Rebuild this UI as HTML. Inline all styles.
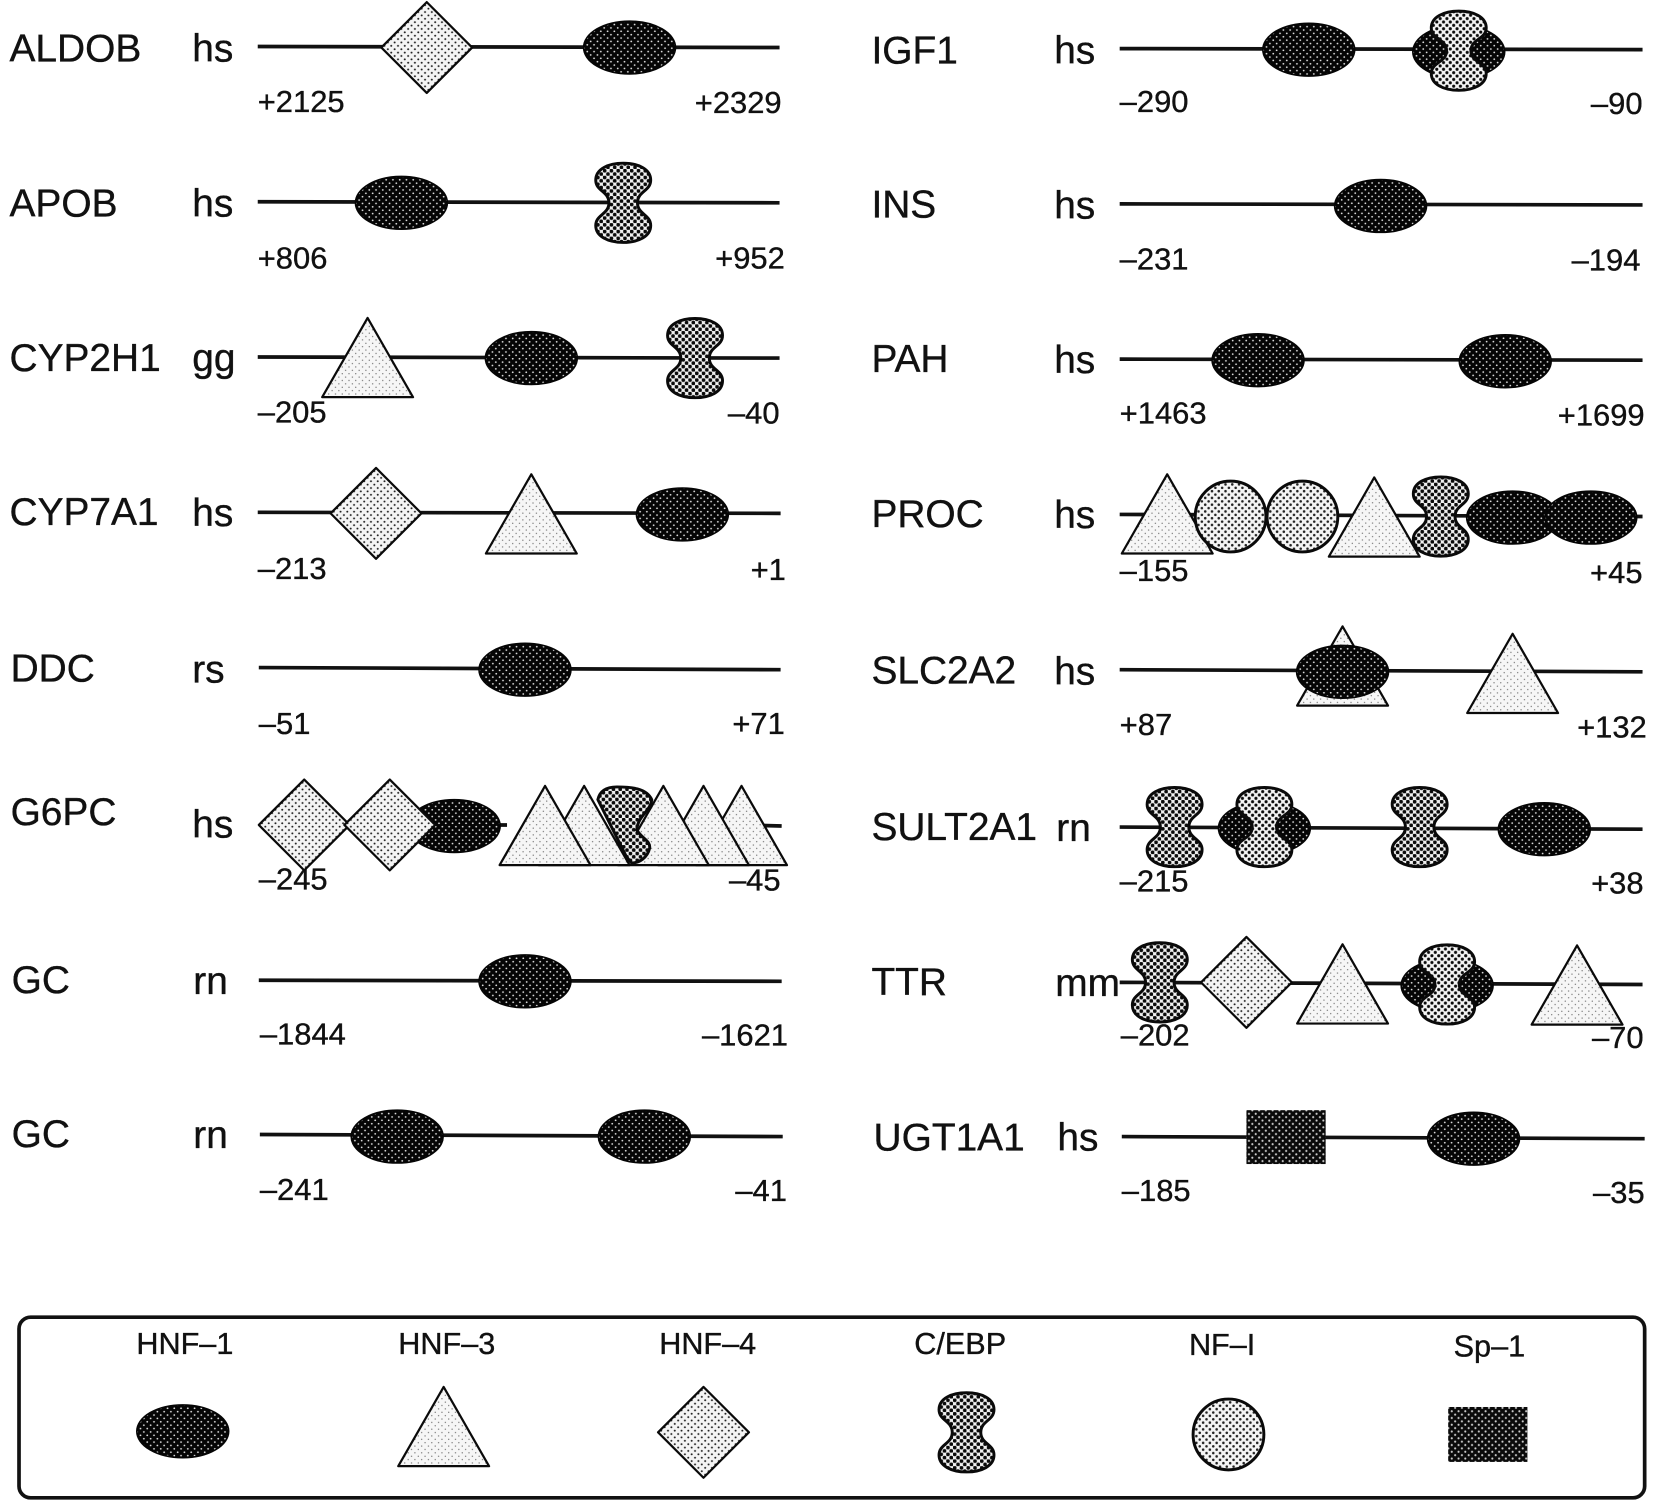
<!DOCTYPE html>
<html><head><meta charset="utf-8"><style>html,body{margin:0;padding:0;background:#fff}svg{display:block}
text{font-family:"Liberation Sans",Arial,sans-serif;fill:#111;stroke:#111;stroke-width:.35}
.l{font-size:36.8px}.n{font-size:29.3px}.g{font-size:29px;text-anchor:middle}.r{text-anchor:end}
.ln{stroke:#111;stroke-width:3.5;fill:none}
.s{stroke:#0a0a0a;stroke-width:2.8;stroke-linejoin:round}
.st{stroke:#0a0a0a;stroke-width:2.1;stroke-linejoin:round}
</style></head><body>
<svg xmlns="http://www.w3.org/2000/svg" width="1656" height="1501" viewBox="0 0 1656 1501">
<defs>
<pattern id="pE" patternUnits="userSpaceOnUse" width="6.4" height="6.4"><rect width="6.4" height="6.4" fill="#050505"/><circle cx="1.6" cy="1.6" r=".85" fill="#ddd"/><circle cx="4.8" cy="4.8" r=".85" fill="#ddd"/></pattern>
<pattern id="pT" patternUnits="userSpaceOnUse" width="6.4" height="6.4"><rect width="6.4" height="6.4" fill="#f6f6f6"/><circle cx="1.6" cy="1.6" r=".55" fill="#555"/><circle cx="4.8" cy="4.8" r=".55" fill="#555"/></pattern>
<pattern id="pD" patternUnits="userSpaceOnUse" width="6.4" height="6.4"><rect width="6.4" height="6.4" fill="#f4f4f4"/><circle cx="1.6" cy="1.6" r=".95" fill="#222"/><circle cx="4.8" cy="4.8" r=".95" fill="#222"/></pattern>
<pattern id="pC" patternUnits="userSpaceOnUse" width="6.4" height="6.4"><rect width="6.4" height="6.4" fill="#f0f0f0"/><circle cx="1.6" cy="1.6" r="1.8" fill="#0a0a0a"/><circle cx="4.8" cy="4.8" r="1.8" fill="#0a0a0a"/></pattern>
<pattern id="pC2" patternUnits="userSpaceOnUse" width="6.4" height="6.4"><rect width="6.4" height="6.4" fill="#f4f4f4"/><circle cx="1.6" cy="1.6" r="1.45" fill="#0a0a0a"/><circle cx="4.8" cy="4.8" r="1.45" fill="#0a0a0a"/></pattern>
<pattern id="pN" patternUnits="userSpaceOnUse" width="6.4" height="6.4"><rect width="6.4" height="6.4" fill="#f4f4f4"/><circle cx="1.6" cy="1.6" r="1.2" fill="#222"/><circle cx="4.8" cy="4.8" r="1.2" fill="#222"/></pattern>
<pattern id="pS" patternUnits="userSpaceOnUse" width="6.4" height="6.4"><rect width="6.4" height="6.4" fill="#0a0a0a"/><circle cx="1.6" cy="1.6" r="1" fill="#ccc"/><circle cx="4.8" cy="4.8" r="1" fill="#ccc"/></pattern>
<ellipse id="e" cx="0" cy="1" rx="43.5" ry="25" fill="url(#pE)" stroke="#050505" stroke-width="1.5"/>
<polygon id="d" points="0,-43 43,0 0,43 -43,0" fill="url(#pD)" class="st"/>
<polygon id="t" points="0,0 43,75 -43,75" fill="url(#pT)" class="st"/>
<path id="c" d="M0,-37.500C14,-37.500 26,-32 26,-21.500C26,-11 13.500,-11 13.500,0C13.500,11 26,11 26,21.500C26,32 14,37.500 0,37.500C-14,37.500 -26,32 -26,21.500C-26,11 -13.500,11 -13.500,0C-13.500,-11 -26,-11 -26,-21.500C-26,-32 -14,-37.500 0,-37.500Z" fill="url(#pC)" class="s"/>
<path id="c2" d="M0,-37.500C14,-37.500 26,-32 26,-21.500C26,-11 11.500,-11 11.500,0C11.500,11 26,11 26,21.500C26,32 14,37.500 0,37.500C-14,37.500 -26,32 -26,21.500C-26,11 -11.500,11 -11.500,0C-11.500,-11 -26,-11 -26,-21.500C-26,-32 -14,-37.500 0,-37.500Z" fill="url(#pC2)" class="s"/>
<circle id="o" cx="0" cy="0" r="33.500" fill="url(#pN)" class="s"/>
</defs>
<rect width="1656" height="1501" fill="#fff"/>
<g transform="scale(1.0563)">
<!-- lines -->
<path class="ln" d="M244,44L738,45M244,191L738,192M244,338L738,339M244,485L739,486M245,632L739,634M700,781L740,782M245,928L740,929M246,1074L741,1076M470,781L480,781
M1060,46L1555,47M1060,193L1555,194M1060,340L1555,341M1060,487L1555,489M1060,634L1555,636M1060,783L1555,785M1060,930L1555,932M1062,1076L1557,1078"/>
<!-- left labels -->
<text class="l" x="9" y="58">ALDOB</text><text class="l" x="182" y="58">hs</text>
<text class="l" x="9" y="205">APOB</text><text class="l" x="182" y="205">hs</text>
<text class="l" x="9" y="351">CYP2H1</text><text class="l" x="182" y="351">gg</text>
<text class="l" x="9" y="497">CYP7A1</text><text class="l" x="182" y="498">hs</text>
<text class="l" x="10" y="645">DDC</text><text class="l" x="182" y="646">rs</text>
<text class="l" x="10" y="781">G6PC</text><text class="l" x="182" y="793">hs</text>
<text class="l" x="11" y="940">GC</text><text class="l" x="183" y="941">rn</text>
<text class="l" x="11" y="1086">GC</text><text class="l" x="183" y="1087">rn</text>
<!-- right labels -->
<text class="l" x="825" y="60">IGF1</text><text class="l" x="998" y="60">hs</text>
<text class="l" x="825" y="206">INS</text><text class="l" x="998" y="207">hs</text>
<text class="l" x="825" y="352">PAH</text><text class="l" x="998" y="353">hs</text>
<text class="l" x="825" y="499">PROC</text><text class="l" x="998" y="500">hs</text>
<text class="l" x="825" y="647">SLC2A2</text><text class="l" x="998" y="648">hs</text>
<text class="l" x="825" y="795">SULT2A1</text><text class="l" x="1000" y="796">rn</text>
<text class="l" x="825" y="942">TTR</text><text class="l" x="999" y="943">mm</text>
<text class="l" x="827" y="1089">UGT1A1</text><text class="l" x="1001" y="1089">hs</text>
<!-- numbers -->
<text class="n" x="244" y="106">+2125</text><text class="n r" x="740" y="107">+2329</text>
<text class="n" x="244" y="254">+806</text><text class="n r" x="743" y="254">+952</text>
<text class="n" x="244" y="400">–205</text><text class="n r" x="738" y="401">–40</text>
<text class="n" x="244" y="548">–213</text><text class="n r" x="744" y="549">+1</text>
<text class="n" x="245" y="695">–51</text><text class="n r" x="743" y="695">+71</text>
<text class="n" x="245" y="842">–245</text><text class="n r" x="739" y="843">–45</text>
<text class="n" x="246" y="989">–1844</text><text class="n r" x="746" y="990">–1621</text>
<text class="n" x="246" y="1136">–241</text><text class="n r" x="745" y="1137">–41</text>
<text class="n" x="1060" y="106">–290</text><text class="n r" x="1555" y="108">–90</text>
<text class="n" x="1060" y="255">–231</text><text class="n r" x="1553" y="256">–194</text>
<text class="n" x="1060" y="401">+1463</text><text class="n r" x="1557" y="403">+1699</text>
<text class="n" x="1060" y="550">–155</text><text class="n r" x="1555" y="552">+45</text>
<text class="n" x="1060" y="696">+87</text><text class="n r" x="1559" y="698">+132</text>
<text class="n" x="1060" y="844">–215</text><text class="n r" x="1556" y="846">+38</text>
<text class="n" x="1061" y="990">–202</text><text class="n r" x="1556" y="992">–70</text>
<text class="n" x="1062" y="1137">–185</text><text class="n r" x="1557" y="1139">–35</text>
<!-- left shapes -->
<use href="#d" x="404" y="45"/><use href="#e" x="596" y="44"/>
<use href="#e" x="380" y="191"/><use href="#c" x="590" y="192"/>
<use href="#t" x="348" y="301"/><use href="#e" x="503" y="338"/><use href="#c" x="658" y="339"/>
<use href="#d" x="356" y="486"/><use href="#t" x="503" y="449"/><use href="#e" x="646" y="486"/>
<use href="#e" x="497" y="633"/>
<use href="#e" x="430" y="781"/><use href="#d" x="288" y="781"/><use href="#d" x="369" y="781"/>
<use href="#t" x="702" y="744"/><use href="#t" x="666" y="744"/><use href="#t" x="628" y="744"/><use href="#t" x="553" y="744"/><use href="#t" x="516" y="744"/>
<path d="M566,757C568,748 575,745 584,745C597,745 612,746 617,757C616,768 603,773 603,786C608,794 616,796 615,803C613,812 605,817 598,817L593,811Z" fill="url(#pC)" class="s" stroke-width="3"/>
<use href="#e" x="497" y="928"/>
<use href="#e" x="376" y="1075"/><use href="#e" x="610" y="1075"/>
<!-- right shapes -->
<use href="#e" x="1239" y="46"/><use href="#e" x="1381" y="48"/><use href="#c2" x="1381" y="48"/>
<use href="#e" x="1307" y="194"/>
<use href="#e" x="1191" y="340"/><use href="#e" x="1425" y="341"/>
<use href="#t" x="1105" y="449"/><use href="#o" x="1165" y="489"/><use href="#o" x="1233" y="489"/><use href="#t" x="1301" y="452"/><use href="#c" x="1364" y="489"/>
<use href="#e" x="1432" y="489"/><use href="#e" x="1506" y="489"/>
<use href="#t" x="1271" y="593"/><use href="#e" x="1271" y="635"/><use href="#t" x="1432" y="600"/>
<use href="#c" x="1112" y="783"/><use href="#e" x="1197" y="783"/><use href="#c2" x="1197" y="783"/><use href="#c" x="1344" y="783"/><use href="#e" x="1462" y="784"/>
<use href="#c" x="1098" y="930"/><use href="#d" x="1180" y="930"/><use href="#t" x="1271" y="894"/><use href="#e" x="1370" y="932"/><use href="#c2" x="1370" y="932"/><use href="#t" x="1493" y="895"/>
<rect x="1180" y="1051" width="75" height="51" fill="url(#pS)"/><use href="#e" x="1395" y="1077"/>
<!-- legend -->
<rect x="18" y="1247" width="1539" height="171" rx="11" ry="11" fill="none" stroke="#111" stroke-width="3.500"/>
<text class="g" x="175" y="1282">HNF–1</text>
<text class="g" x="423" y="1282">HNF–3</text>
<text class="g" x="670" y="1282">HNF–4</text>
<text class="g" x="909" y="1282">C/EBP</text>
<text class="g" x="1157" y="1283">NF–I</text>
<text class="g" x="1410" y="1284">Sp–1</text>
<use href="#e" x="173" y="1354"/><use href="#t" x="420" y="1313"/><use href="#d" x="666" y="1356"/><use href="#c" x="915" y="1356"/><use href="#o" x="1163" y="1358"/>
<rect x="1371" y="1332" width="75" height="52" fill="url(#pS)"/>
</g>
</svg>
</body></html>
